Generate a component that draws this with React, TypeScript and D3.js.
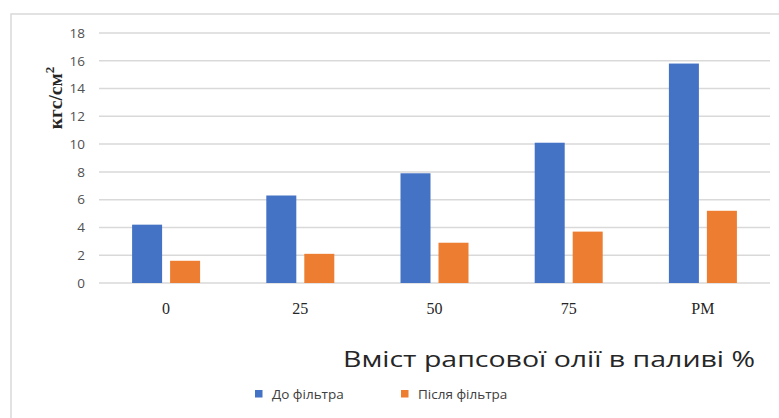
import * as d3 from 'd3';
import React from 'react';

const width = 779;
const height = 418;
const margin = { top: 33, right: 9, bottom: 135, left: 99 };

const categories = ['0', '25', '50', '75', 'РМ'];
const beforeFilter = [4.2, 6.3, 7.9, 10.1, 15.8];
const afterFilter = [1.6, 2.1, 2.9, 3.7, 5.2];
const yTicks = [0, 2, 4, 6, 8, 10, 12, 14, 16, 18];
const seriesNames = ['До фільтра', 'Після фільтра'];
const colors = ['#4472C4', '#ED7D31'];

export default function App() {
  const x = d3
    .scaleBand()
    .domain(categories)
    .range([margin.left, width - margin.right]);
  const y = d3
    .scaleLinear()
    .domain([0, 18])
    .range([height - margin.bottom, margin.top]);

  const barW = 30;
  const gap = 8;
  const series = [beforeFilter, afterFilter];

  return (
    <svg
      width={width}
      height={height}
      style={{ position: 'absolute', left: 0, top: 0, background: '#fff' }}
    >
      <rect x={11} y={14} width={width} height={height} fill="#fff" stroke="#d9d9d9" strokeWidth={1.5} />
      {yTicks.map(t => (
        <g key={t}>
          <line
            x1={margin.left}
            x2={width - margin.right}
            y1={y(t)}
            y2={y(t)}
            stroke="#d9d9d9"
            strokeWidth={1.5}
          />
          <text
            x={85}
            y={y(t)}
            dy="0.35em"
            textAnchor="end"
            fontFamily="Open Sans, sans-serif"
            fontSize={13.5}
            fill="#505050"
          >
            {t}
          </text>
        </g>
      ))}
      {series.map((vals, si) =>
        vals.map((v, i) => {
          const cx = (x(categories[i]) as number) + x.bandwidth() / 2;
          const bx = si === 0 ? cx - gap / 2 - barW : cx + gap / 2;
          return (
            <rect
              key={`${si}-${i}`}
              x={bx}
              y={y(v)}
              width={barW}
              height={y(0) - y(v)}
              fill={colors[si]}
            />
          );
        })
      )}
      {categories.map(c => (
        <text
          key={c}
          x={(x(c) as number) + x.bandwidth() / 2}
          y={314}
          textAnchor="middle"
          fontFamily="Liberation Serif, Times New Roman, serif"
          fontSize={16}
          fill="#262626"
        >
          {c}
        </text>
      ))}
      <text
        transform={`translate(62, 98) rotate(-90)`}
        textAnchor="middle"
        fontFamily="Liberation Serif, Times New Roman, serif"
        fontSize={19.5}
        fontWeight="bold"
        fill="#262626"
      >
        кгс/см<tspan fontSize={13} dy={-8}>2</tspan>
      </text>
      <text
        x={755}
        y={367}
        textAnchor="end"
        fontFamily="Open Sans, sans-serif"
        fontSize={22}
        fill="#262626"
        textLength={412}
        lengthAdjust="spacingAndGlyphs"
      >
        Вміст рапсової олії в паливі %
      </text>
      {seriesNames.map((n, i) => {
        const lx = i === 0 ? 255 : 401;
        return (
          <g key={n}>
            <rect x={lx} y={390} width={7.5} height={7.5} fill={colors[i]} />
            <text
              x={lx + 17}
              y={398.5}
              fontFamily="Open Sans, sans-serif"
              fontSize={13.5}
              fill="#404040"
            >
              {n}
            </text>
          </g>
        );
      })}
    </svg>
  );
}
